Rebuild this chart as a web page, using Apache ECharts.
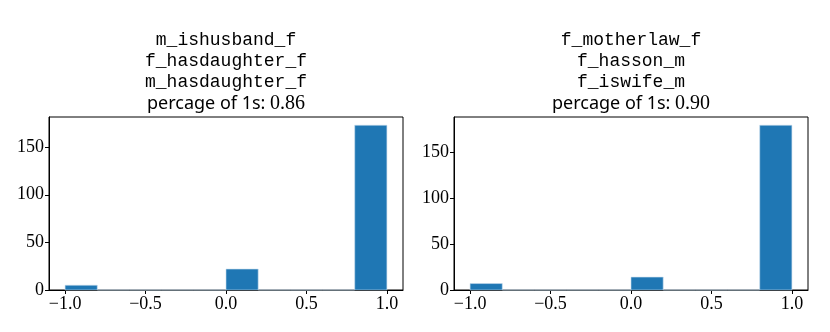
<!DOCTYPE html>
<html>
<head>
<meta charset="utf-8">
<script src="https://cdn.jsdelivr.net/npm/echarts@6/dist/echarts.min.js"></script>
<style>
html,body{margin:0;padding:0;background:#fff;}
#chart{width:830px;height:332px;}
</style>
</head>
<body>
<div id="chart"></div>
<script>
// histogram bins (10 bins between -1 and 1)
var binEdges = [-1.0, -0.8, -0.6, -0.4, -0.2, 0.0, 0.2, 0.4, 0.6, 0.8, 1.0];
var countsLeft = [5, 0, 0, 0, 0, 22, 0, 0, 0, 173];
var countsRight = [7, 0, 0, 0, 0, 14, 0, 0, 0, 179];

var namesLeft = ['m_ishusband_f', 'f_hasdaughter_f', 'm_hasdaughter_f'];
var namesRight = ['f_motherlaw_f', 'f_hasson_m', 'f_iswife_m'];
var shareLeft = '0.86';
var shareRight = '0.90';

var xTicks = [-1.0, -0.5, 0.0, 0.5, 1.0];
var yTicks = [0, 50, 100, 150];

var barColor = '#1f77b4';
var serif = 'Liberation Serif';

function binData(counts){
	var out = [];
	for (var i = 0; i < counts.length; i++) {
		out.push([binEdges[i], binEdges[i+1], counts[i]]);
	}
	return out;
}

function titleText(names, share){
	var s = '';
	for (var i = 0; i < names.length; i++) {
		s += '{mono|' + names[i] + '}\n';
	}
	s += '{sans|percage of 1s: }{num|' + share + '}';
	return s;
}

function makeTitle(names, share, cx){
	return {
		text: titleText(names, share),
		left: cx,
		top: 30,
		textAlign: 'center',
		padding: 0,
		textStyle: {
			lineHeight: 21,
			fontWeight: 'normal',
			rich: {
				mono: {fontFamily: 'Liberation Mono', fontSize: 18, fontWeight: 'normal', color: '#000', lineHeight: 21},
				sans: {fontFamily: 'Noto Sans', fontSize: 18, fontWeight: 'normal', color: '#000', lineHeight: 21},
				num: {fontFamily: serif, fontSize: 20, fontWeight: 'normal', color: '#000', lineHeight: 21}
			}
		}
	};
}

function fmtTick(v){
	var s = Math.abs(v).toFixed(1);
	return v < 0 ? '\u2212' + s : s;
}

function makeX(idx){
	return {
		type: 'value', gridIndex: idx, min: -1.1, max: 1.1,
		axisLine: {show: true, onZero: false, lineStyle: {color: '#000', width: 1}},
		axisTick: {show: true, length: 4, customValues: xTicks, lineStyle: {color: '#000'}},
		axisLabel: {customValues: xTicks, formatter: fmtTick, margin: 5, color: '#000', fontFamily: serif, fontSize: 18},
		splitLine: {show: false}
	};
}

function makeY(idx, counts){
	return {
		type: 'value', gridIndex: idx, min: 0, max: Math.max.apply(null, counts) * 1.05,
		axisLine: {show: true, onZero: false, lineStyle: {color: '#000', width: 1}},
		axisTick: {show: true, length: 4, customValues: yTicks, lineStyle: {color: '#000'}},
		axisLabel: {customValues: yTicks, margin: 5, color: '#000', fontFamily: serif, fontSize: 18},
		splitLine: {show: false}
	};
}

function renderBin(params, api){
	var p0 = api.coord([api.value(0), api.value(2)]);
	var p1 = api.coord([api.value(1), 0]);
	return {
		type: 'rect',
		shape: {x: p0[0], y: p0[1], width: p1[0] - p0[0], height: p1[1] - p0[1]},
		style: {fill: barColor, stroke: '#c8dcec', lineWidth: 0.6}
	};
}

var chart = echarts.init(document.getElementById('chart'));
var option = {
	animation: false,
	backgroundColor: '#fff',
	title: [
		makeTitle(namesLeft, shareLeft, 226),
		makeTitle(namesRight, shareRight, 631)
	],
	grid: [
		{left: 49, top: 117, width: 354, height: 173, show: true, borderColor: '#000', borderWidth: 1},
		{left: 454, top: 117, width: 354, height: 173, show: true, borderColor: '#000', borderWidth: 1}
	],
	xAxis: [makeX(0), makeX(1)],
	yAxis: [makeY(0, countsLeft), makeY(1, countsRight)],
	series: [
		{type: 'custom', xAxisIndex: 0, yAxisIndex: 0, renderItem: renderBin, data: binData(countsLeft)},
		{type: 'custom', xAxisIndex: 1, yAxisIndex: 1, renderItem: renderBin, data: binData(countsRight)}
	]
};
chart.setOption(option);
</script>
</body>
</html>
